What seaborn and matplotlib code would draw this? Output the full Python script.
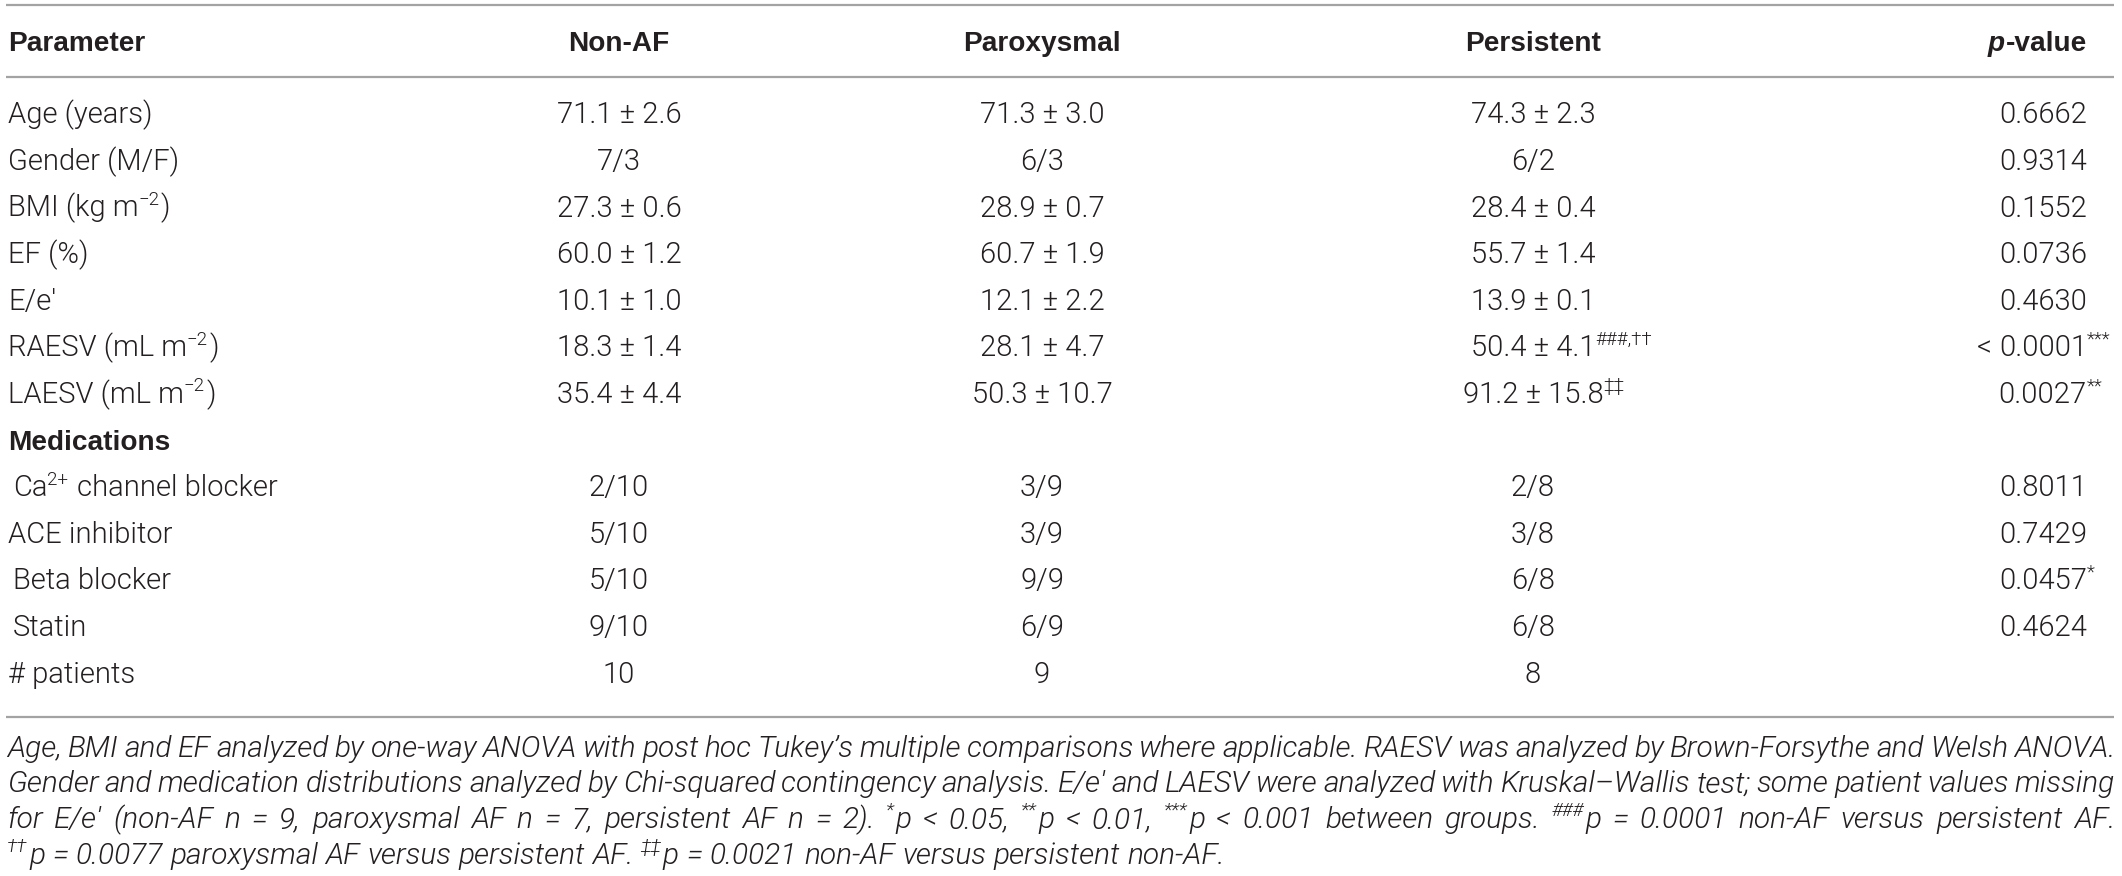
import re
import numpy as np
import matplotlib
matplotlib.use("Agg")
import matplotlib.pyplot as plt
import matplotlib.font_manager as fm
import seaborn as sns

# ---- table content ("^{...}" marks a superscript) ----
col_headers = ["Non-AF", "Paroxysmal", "Persistent"]
parameters = ["Age (years)", "Gender (M/F)", "BMI (kg m^{−2})", "EF (%)", "E/e′",
              "RAESV (mL m^{−2})", "LAESV (mL m^{−2})", "Medications",
              " Ca^{2+} channel blocker", "ACE inhibitor", " Beta blocker", " Statin",
              "# patients"]
non_af = ["71.1 ± 2.6", "7/3", "27.3 ± 0.6", "60.0 ± 1.2", "10.1 ± 1.0", "18.3 ± 1.4",
          "35.4 ± 4.4", "", "2/10", "5/10", "5/10", "9/10", "10"]
paroxysmal = ["71.3 ± 3.0", "6/3", "28.9 ± 0.7", "60.7 ± 1.9", "12.1 ± 2.2", "28.1 ± 4.7",
              "50.3 ± 10.7", "", "3/9", "3/9", "9/9", "6/9", "9"]
persistent = ["74.3 ± 2.3", "6/2", "28.4 ± 0.4", "55.7 ± 1.4", "13.9 ± 0.1",
              "50.4 ± 4.1^{###,††}", "91.2 ± 15.8^{‡‡}", "", "2/8", "3/8", "6/8", "6/8", "8"]
p_values = ["0.6662", "0.9314", "0.1552", "0.0736", "0.4630", "< 0.0001^{***}",
            "0.0027^{**}", "", "0.8011", "0.7429", "0.0457^{*}", "0.4624", ""]
bold_rows = ["Medications"]

footnote_lines = [
    "Age, BMI and EF analyzed by one-way ANOVA with post hoc Tukey’s multiple comparisons where applicable. RAESV was analyzed by Brown-Forsythe and Welsh ANOVA.",
    "Gender and medication distributions analyzed by Chi-squared contingency analysis. E/e′ and LAESV were analyzed with Kruskal–Wallis test; some patient values missing",
    "for E/e′ (non-AF n = 9, paroxysmal AF n = 7, persistent AF n = 2). ^{*}p < 0.05, ^{**}p < 0.01, ^{***}p < 0.001 between groups. ^{###}p = 0.0001 non-AF versus persistent AF.",
    "^{††}p = 0.0077 paroxysmal AF versus persistent AF. ^{‡‡}p = 0.0021 non-AF versus persistent non-AF.",
]

W, H = 2122, 876
TEXT = "#231f20"
RULE = "#a3a3a3"
SUP = 0.64


def pick_font(cands, weight, style="normal"):
    fallback = None
    for name in cands:
        ents = [f for f in fm.fontManager.ttflist if f.name == name and f.style == style]
        if not ents:
            continue

        def wdiff(f):
            try:
                return abs(int(f.weight) - weight)
            except (TypeError, ValueError):
                return 999
        best = min(ents, key=wdiff)
        font = dict(family=[name, "DejaVu Sans"], weight=best.weight, style=style)
        if wdiff(best) <= 50:
            return font
        if fallback is None:
            fallback = font
    return fallback or dict(family=["Liberation Sans", "DejaVu Sans"], weight="normal", style=style)


sns.set_theme(style="white")
light = pick_font(["Roboto", "Lato", "Open Sans", "Source Sans 3", "Nunito Sans"], 300)
light_it = pick_font(["Roboto", "Lato", "Open Sans", "Source Sans 3", "Nunito Sans"], 300, "italic")
bold = dict(family=["Liberation Sans", "DejaVu Sans"], weight="bold", style="normal")
bold_it = dict(family=["Liberation Sans", "DejaVu Sans"], weight="bold", style="italic")
plt.rcParams["font.family"] = light["family"]

fig = plt.figure(figsize=(W / 100, H / 100), dpi=100)
fig.patch.set_facecolor("white")
ax = fig.add_axes([0, 0, 1, 1])
ax.set_xlim(0, W)
ax.set_ylim(H, 0)
ax.axis("off")
renderer = fig.canvas.get_renderer()


def measure(s, size, font):
    if not s:
        return 0.0
    t = ax.text(0, 0, s, fontsize=size, **font)
    w = t.get_window_extent(renderer).width
    t.remove()
    return w


def space_w(size, font):
    return measure("a a", size, font) - measure("aa", size, font)


def parse(s):
    out = []
    for p in re.split(r"(\^\{[^}]*\})", s):
        if not p:
            continue
        if p.startswith("^{"):
            out.append((p[2:-1], True))
        else:
            out.append((p, False))
    return out


def run_width(runs, size, font):
    sw = space_w(size, font)
    total = 0.0
    for txt, sup in runs:
        sz = size * SUP if sup else size
        core = txt.strip(" ")
        lead = len(txt) - len(txt.lstrip(" "))
        trail = len(txt) - len(txt.rstrip(" "))
        total += (lead + trail) * sw + measure(core, sz, font) + (1.5 if sup else 0)
    return total


def draw_runs(x, base, runs, size, font, color=TEXT):
    sw = space_w(size, font)
    px = size * 100 / 72
    for txt, sup in runs:
        sz = size * SUP if sup else size
        core = txt.strip(" ")
        lead = len(txt) - len(txt.lstrip(" "))
        trail = len(txt) - len(txt.rstrip(" "))
        x += lead * sw
        y = base - 0.40 * px if sup else base
        ax.text(x, y, core, fontsize=sz, va="baseline", ha="left", color=color, **font)
        x += measure(core, sz, font) + (1.5 if sup else 0) + trail * sw
    return x


# ---- geometry ----
body_size = 21
head_size = 20.2
x_left = 8
col_cx = [619, 1042, 1533]
p_right = 2087
head_base = 51
row_y = 113 + 46.6 * np.arange(len(parameters))
cap = 0.711 * body_size * 100 / 72

# rules
for yy in (5, 77, 717):
    ax.plot([6, 2114], [yy, yy], color=RULE, lw=1.6, solid_capstyle="butt")

# header
draw_runs(x_left, head_base, [("Parameter", False)], head_size, bold)
for cx, h in zip(col_cx, col_headers):
    w = measure(h, head_size, bold)
    draw_runs(cx - w / 2, head_base, [(h, False)], head_size, bold)
wp = measure("p", head_size, bold_it)
wv = measure("-value", head_size, bold)
ax.text(p_right - wv - wp - 1, head_base, "p", fontsize=head_size, va="baseline", color=TEXT, **bold_it)
ax.text(p_right - wv, head_base, "-value", fontsize=head_size, va="baseline", color=TEXT, **bold)

# body
sw_body = space_w(body_size, light)
for i, label in enumerate(parameters):
    base = row_y[i] + cap / 2
    if label in bold_rows:
        draw_runs(x_left, base, [(label, False)], head_size, bold)
        continue
    indent = len(label) - len(label.lstrip(" "))
    draw_runs(x_left + indent * 5, base, parse(label.lstrip(" ")), body_size, light)
    for cx, col in zip(col_cx, (non_af, paroxysmal, persistent)):
        runs = parse(col[i])
        if not runs:
            continue
        main = runs[0][0]
        wm = measure(main, body_size, light)
        draw_runs(cx - wm / 2, base, runs, body_size, light)
    runs = parse(p_values[i])
    if runs:
        main = runs[0][0]
        prefix = ""
        if main.startswith("<"):
            prefix, main = "<", main[1:].strip()
        wm = measure(main, body_size, light)
        x0 = p_right - wm
        if prefix:
            wpre = measure(prefix, body_size, light)
            draw_runs(x0 - sw_body - wpre, base, [(prefix, False)], body_size, light)
        draw_runs(x0, base, [(main, False)] + runs[1:], body_size, light)

# footnote (justified, last line ragged)
foot_size = 20.0
target = 2108
words_per_line = [[parse(wd) for wd in ln.split(" ")] for ln in footnote_lines]
scales = []
for words in words_per_line[:-1]:
    ws = sum(run_width(r, foot_size, light_it) for r in words)
    sp = space_w(foot_size, light_it) * 0.8 * (len(words) - 1)
    scales.append((target - 4) / (ws + sp))
foot_size *= min(1.1, min(scales))
foot_base = [757, 792.5, 828, 863.5]
sw_foot = space_w(foot_size, light_it)
for li, words in enumerate(words_per_line):
    ws = [run_width(r, foot_size, light_it) for r in words]
    last = li == len(words_per_line) - 1
    gap = sw_foot if last else (target - sum(ws)) / (len(ws) - 1)
    x = 7
    for r, w in zip(words, ws):
        draw_runs(x, foot_base[li], r, foot_size, light_it)
        x += w + gap

fig.savefig("out.png", dpi=100, facecolor="white")
